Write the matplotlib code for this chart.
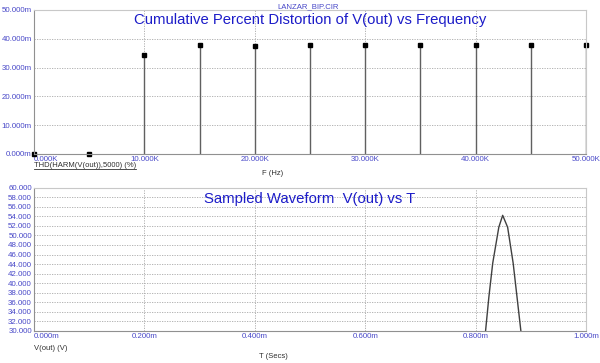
import matplotlib.pyplot as plt
from matplotlib.lines import Line2D
from matplotlib.ticker import FuncFormatter

plt.rcParams["font.family"] = ["Liberation Sans", "DejaVu Sans"]

# THD stem data (frequency in Hz, THD in m%)
freq = [0, 5000, 10000, 15000, 20000, 25000, 30000, 35000, 40000, 45000, 50000]
thd = [0.0, 0.0, 34.3, 37.7, 37.6, 37.8, 37.8, 37.8, 37.8, 38.0, 37.9]

# sampled waveform (time in ms, volts)
t_ms = [0.818, 0.824, 0.831, 0.842, 0.849, 0.858, 0.868, 0.875, 0.882]
vout = [30.0, 37.1, 44.2, 51.7, 54.2, 51.7, 44.2, 37.1, 30.0]

TICK_BLUE = "#4848c8"
TITLE_BLUE = "#1c1cc8"
GRID = "#a8a8a8"
LABEL = "#303030"


def style_axes(ax):
    for side in ["top", "right"]:
        ax.spines[side].set_color("#c8c8c8")
    for side in ["left", "bottom"]:
        ax.spines[side].set_color("#909090")
    ax.tick_params(length=0, labelsize=5.7, colors=TICK_BLUE, pad=1.5)
    ax.grid(True, color=GRID, linestyle=(0, (1.5, 1.5)), linewidth=0.6)
    ax.set_axisbelow(True)


def main() -> None:
    fig = plt.figure(figsize=(6, 3.63), dpi=100)

    # top: THD stems
    ax1 = fig.add_axes([0.0567, 0.5758, 0.92, 0.3967])
    style_axes(ax1)
    ax1.vlines(freq, 0, thd, color="#606060", linewidth=1.0)
    ax1.plot(freq, thd, "s", color="black", markersize=2.5, clip_on=False)
    ax1.set_xlim(0, 50000)
    ax1.set_ylim(0, 50)
    ax1.set_xticks([0, 10000, 20000, 30000, 40000, 50000])
    ax1.xaxis.set_major_formatter(FuncFormatter(lambda v, p: f"{v / 1000:.3f}K"))
    ax1.set_yticks([0, 10, 20, 30, 40, 50])
    ax1.yaxis.set_major_formatter(FuncFormatter(lambda v, p: f"{v:.3f}m"))
    ax1.get_xticklabels()[0].set_ha("left")
    ax1.text(0.5, 0.93, "Cumulative Percent Distortion of V(out) vs Frequency",
             transform=ax1.transAxes, ha="center", va="center",
             fontsize=10.7, color=TITLE_BLUE)

    # bottom: sampled waveform
    ax2 = fig.add_axes([0.0567, 0.0882, 0.92, 0.395])
    style_axes(ax2)
    ax2.plot(t_ms, vout, color="#404040", linewidth=1.0)
    ax2.set_xlim(0, 1.0)
    ax2.set_ylim(30, 60)
    ax2.set_xticks([0, 0.2, 0.4, 0.6, 0.8, 1.0])
    ax2.xaxis.set_major_formatter(FuncFormatter(lambda v, p: f"{v:.3f}m"))
    ax2.set_yticks(range(30, 61, 2))
    ax2.yaxis.set_major_formatter(FuncFormatter(lambda v, p: f"{v:.3f}"))
    ax2.get_xticklabels()[0].set_ha("left")
    ax2.text(0.5, 0.92, "Sampled Waveform  V(out) vs T",
             transform=ax2.transAxes, ha="center", va="center",
             fontsize=10.7, color=TITLE_BLUE)

    # loose labels
    fig.text(308 / 600, 0.99, "LANZAR_BIP.CIR", ha="center", va="top",
             fontsize=5.6, color=TICK_BLUE)
    thd_label = fig.text(0.057, 1 - 166 / 363, "THD(HARM(V(out)),5000) (%)",
                         ha="left", va="center", fontsize=5.5, color=LABEL)
    fig.text(273 / 600, 1 - 174 / 363, "F (Hz)", ha="center", va="center",
             fontsize=5.5, color=LABEL)
    fig.text(0.057, 1 - 348 / 363, "V(out) (V)", ha="left", va="center",
             fontsize=5.5, color=LABEL)
    fig.text(273 / 600, 1 - 357 / 363, "T (Secs)", ha="center", va="center",
             fontsize=5.5, color=LABEL)

    # underline the trace name like the simulator does
    fig.canvas.draw()
    bb = thd_label.get_window_extent().transformed(fig.transFigure.inverted())
    fig.add_artist(Line2D([bb.x0, bb.x1], [bb.y0, bb.y0],
                          transform=fig.transFigure, color=LABEL, linewidth=0.6))

    fig.savefig("out.png", dpi=100, facecolor="white")


if __name__ == "__main__":
    main()
